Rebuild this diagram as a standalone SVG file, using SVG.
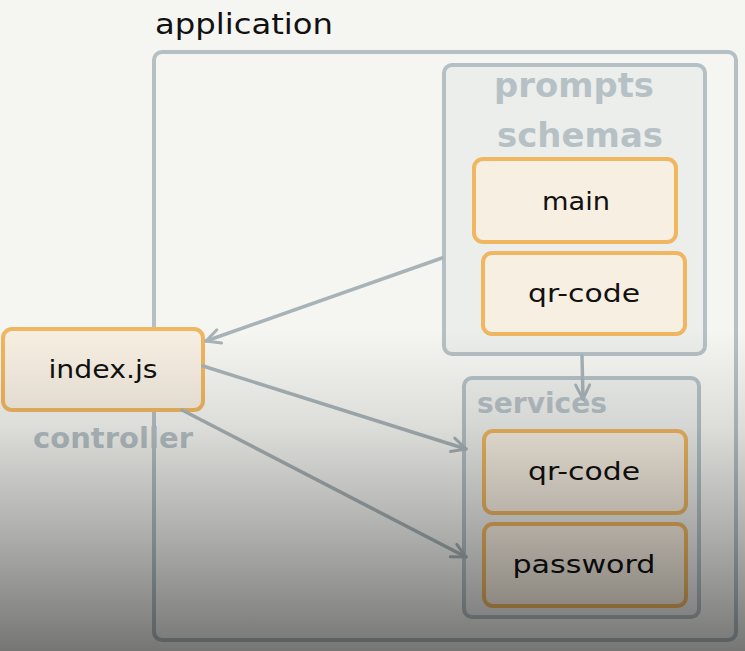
<svg xmlns="http://www.w3.org/2000/svg" width="745" height="651" viewBox="0 0 745 651">
<defs>
<style>
.grp{fill:#eceeec;stroke:#b5c0c4;stroke-width:4}
.outer{fill:none;stroke:#b5c0c4;stroke-width:4}
.node{fill:#f7efe2;stroke:#f0b660;stroke-width:4}
.lbl{font-family:"DejaVu Sans",sans-serif;fill:#111;font-size:25px;text-anchor:middle}
.glbl{font-family:"DejaVu Sans",sans-serif;fill:#b6c1c5;font-size:33px;font-weight:bold}
.conn{fill:none;stroke:#a8b3b7;stroke-width:3.5;stroke-linecap:round}
</style>
<marker id="arr" viewBox="0 0 20 20" refX="18" refY="10" markerWidth="20" markerHeight="20" markerUnits="userSpaceOnUse" orient="auto">
<path d="M4,3 L18,10 L4,17" fill="none" stroke="#a8b3b7" stroke-width="3" stroke-linecap="round" stroke-linejoin="round"/>
</marker>
<linearGradient id="shade" x1="0" y1="0" x2="0" y2="1">
<stop offset="0" stop-color="#000" stop-opacity="0"/>
<stop offset="0.3" stop-color="#000" stop-opacity="0.1"/>
<stop offset="0.65" stop-color="#000" stop-opacity="0.3"/>
<stop offset="1" stop-color="#000" stop-opacity="0.52"/>
</linearGradient>
</defs>
<rect x="0" y="0" width="745" height="651" fill="#f5f6f2"/>
<g id="application">
<rect class="outer" x="154" y="52" width="582" height="588" rx="8"/>
<text x="155" y="34" font-family="DejaVu Sans,sans-serif" font-size="28" fill="#111" textLength="178" lengthAdjust="spacingAndGlyphs">application</text>
</g>
<g id="prompts-schemas">
<rect class="grp" x="444" y="65" width="261" height="289" rx="8"/>
<text class="glbl" x="494" y="97" textLength="160" lengthAdjust="spacingAndGlyphs">prompts</text>
<text class="glbl" x="497" y="147" textLength="166" lengthAdjust="spacingAndGlyphs">schemas</text>
</g>
<g id="main">
<rect class="node" x="474" y="159" width="202" height="83" rx="9"/>
<text class="lbl" x="576" y="210" textLength="68" lengthAdjust="spacingAndGlyphs">main</text>
</g>
<g id="prompts-qr-code">
<rect class="node" x="483" y="253" width="202" height="81" rx="9"/>
<text class="lbl" x="584" y="302" textLength="112" lengthAdjust="spacingAndGlyphs">qr-code</text>
</g>
<g id="services">
<rect class="grp" x="464" y="378" width="235" height="239" rx="8"/>
<text class="glbl" x="477" y="413" textLength="130" lengthAdjust="spacingAndGlyphs" style="font-size:29px">services</text>
</g>
<g id="services-qr-code">
<rect class="node" x="484" y="431" width="202" height="82" rx="9"/>
<text class="lbl" x="584" y="480" textLength="112" lengthAdjust="spacingAndGlyphs">qr-code</text>
</g>
<g id="password">
<rect class="node" x="484" y="524" width="202" height="82" rx="9"/>
<text class="lbl" x="584" y="573" textLength="143" lengthAdjust="spacingAndGlyphs">password</text>
</g>
<g id="index-js">
<rect class="node" x="3" y="329" width="200" height="81" rx="9"/>
<text class="lbl" x="103" y="378" textLength="109" lengthAdjust="spacingAndGlyphs">index.js</text>
<text class="glbl" x="33" y="448" textLength="160" lengthAdjust="spacingAndGlyphs" style="font-size:28px">controller</text>
</g>
<g id="connectors">
<path class="conn" d="M442,258 L206,341" marker-end="url(#arr)"/>
<path class="conn" d="M203,366 L466,449" marker-end="url(#arr)"/>
<path class="conn" d="M182,410 L466,557" marker-end="url(#arr)"/>
<path class="conn" d="M582,356 L583,399" marker-end="url(#arr)"/>
</g>
<rect x="0" y="330" width="745" height="321" fill="url(#shade)"/>
</svg>
